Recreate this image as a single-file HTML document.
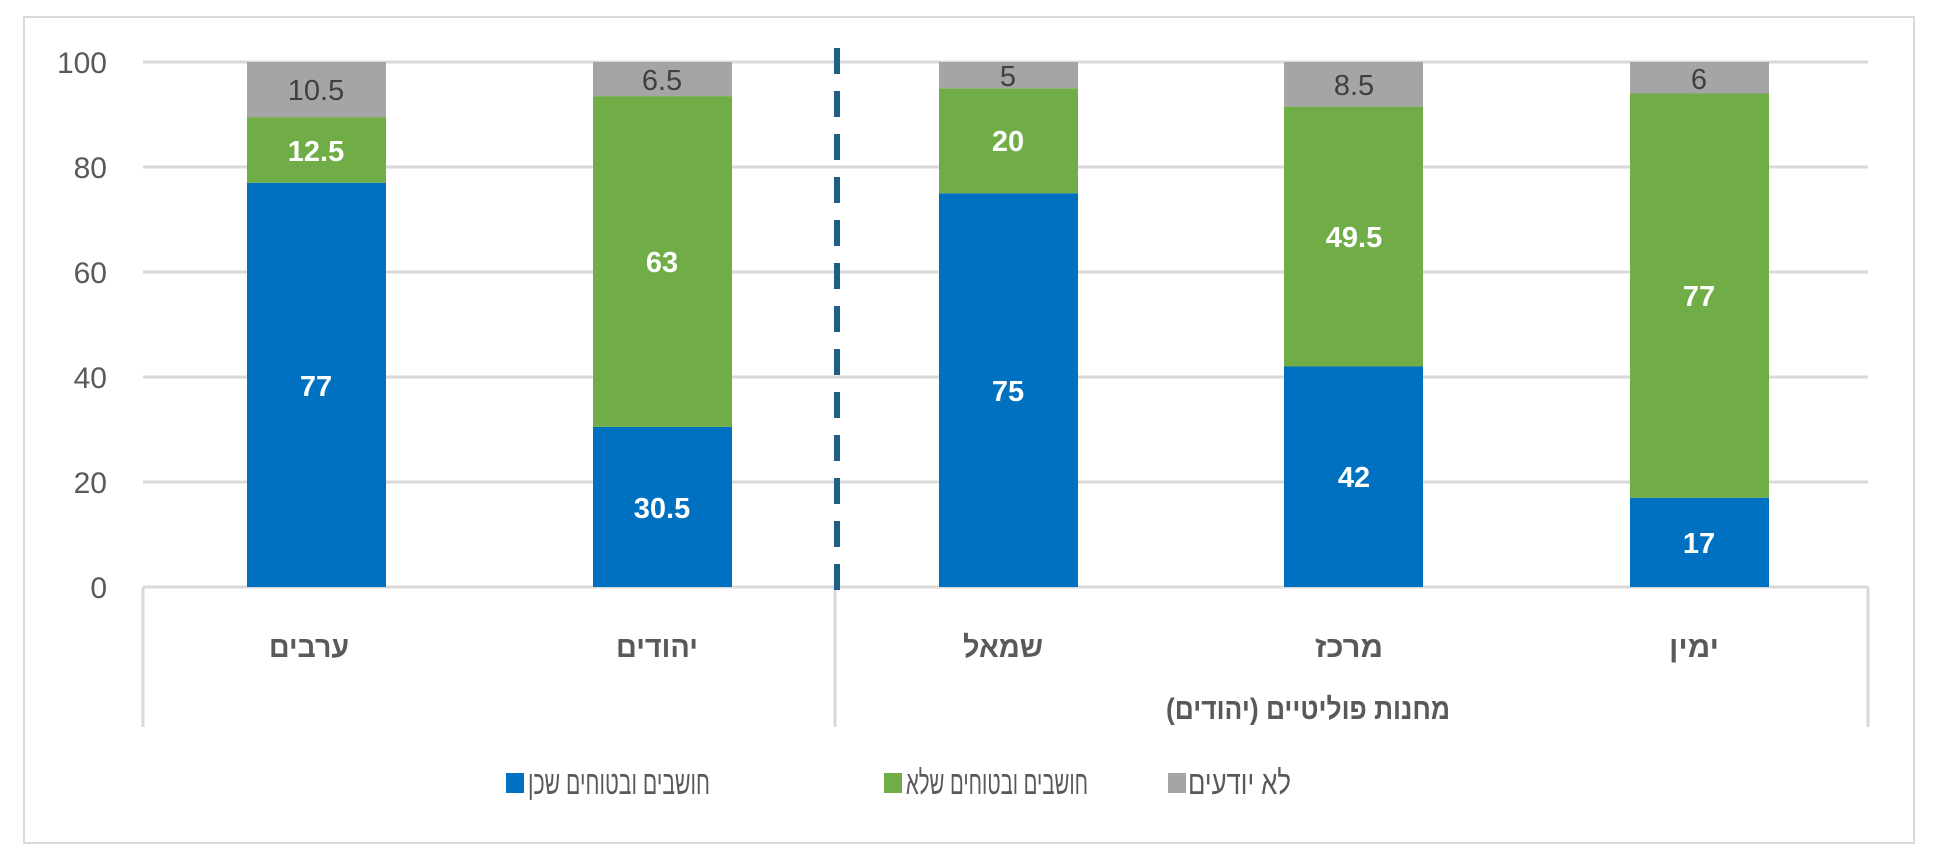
<!DOCTYPE html>
<html><head><meta charset="utf-8"><style>body{margin:0;background:#fff}svg{display:block}</style></head><body>
<svg width="1934" height="862" xmlns="http://www.w3.org/2000/svg" font-family="'Liberation Sans','Noto Sans CJK SC',sans-serif">
<rect x="0" y="0" width="1934" height="862" fill="#fff"/>
<rect x="24" y="17" width="1890" height="826" fill="none" stroke="#D9D9D9" stroke-width="2"/>
<g stroke="#D9D9D9" stroke-width="3">
<line x1="143" y1="62" x2="1868" y2="62"/>
<line x1="143" y1="167" x2="1868" y2="167"/>
<line x1="143" y1="272" x2="1868" y2="272"/>
<line x1="143" y1="377" x2="1868" y2="377"/>
<line x1="143" y1="482" x2="1868" y2="482"/>
<line x1="143" y1="587" x2="1868" y2="587"/>
<line x1="143" y1="587" x2="143" y2="727"/>
<line x1="835" y1="587" x2="835" y2="727"/>
<line x1="1868" y1="587" x2="1868" y2="727"/>
</g>
<g font-size="30" fill="#595959" text-anchor="end">
<text x="107" y="73">100</text><text x="107" y="178">80</text><text x="107" y="283">60</text>
<text x="107" y="388">40</text><text x="107" y="493">20</text><text x="107" y="598">0</text>
</g>
<g>
<rect x="247" y="182.75" width="139" height="404.25" fill="#0070C0"/>
<rect x="247" y="117.125" width="139" height="65.625" fill="#70AD47"/>
<rect x="247" y="62" width="139" height="55.125" fill="#A5A5A5"/>
<rect x="593" y="426.875" width="139" height="160.125" fill="#0070C0"/>
<rect x="593" y="96.125" width="139" height="330.75" fill="#70AD47"/>
<rect x="593" y="62" width="139" height="34.125" fill="#A5A5A5"/>
<rect x="939" y="193.25" width="139" height="393.75" fill="#0070C0"/>
<rect x="939" y="88.25" width="139" height="105" fill="#70AD47"/>
<rect x="939" y="62" width="139" height="26.25" fill="#A5A5A5"/>
<rect x="1284" y="366.5" width="139" height="220.5" fill="#0070C0"/>
<rect x="1284" y="106.625" width="139" height="259.875" fill="#70AD47"/>
<rect x="1284" y="62" width="139" height="44.625" fill="#A5A5A5"/>
<rect x="1630" y="497.75" width="139" height="89.25" fill="#0070C0"/>
<rect x="1630" y="93.5" width="139" height="404.25" fill="#70AD47"/>
<rect x="1630" y="62" width="139" height="31.5" fill="#A5A5A5"/>
</g>
<g font-size="29" font-weight="bold" fill="#fff" text-anchor="middle">
<text x="316" y="396">77</text><text x="316" y="161">12.5</text>
<text x="662" y="518">30.5</text><text x="662" y="272">63</text>
<text x="1008" y="401">75</text><text x="1008" y="151">20</text>
<text x="1354" y="487">42</text><text x="1354" y="247">49.5</text>
<text x="1699" y="553">17</text><text x="1699" y="306">77</text>
</g>
<g font-size="29" fill="#404040" text-anchor="middle">
<text x="316" y="100">10.5</text><text x="662" y="90">6.5</text><text x="1008" y="86">5</text>
<text x="1354" y="95">8.5</text><text x="1699" y="89">6</text>
</g>
<line x1="837" y1="48" x2="837" y2="592" stroke="#1F5F86" stroke-width="6" stroke-dasharray="26 17"/>
<g font-size="30" font-weight="bold" fill="#595959" text-anchor="middle">
<text x="309" y="657" textLength="80" lengthAdjust="spacingAndGlyphs">ערבים</text>
<text x="657" y="657" textLength="82" lengthAdjust="spacingAndGlyphs">יהודים</text>
<text x="1003" y="657" textLength="80" lengthAdjust="spacingAndGlyphs">שמאל</text>
<text x="1349" y="657" textLength="68" lengthAdjust="spacingAndGlyphs">מרכז</text>
<text x="1694" y="657" textLength="50" lengthAdjust="spacingAndGlyphs">ימין</text>
<text x="1308" y="719" textLength="284" lengthAdjust="spacingAndGlyphs">מחנות פוליטיים (יהודים)</text>
</g>
<g font-size="33" fill="#595959">
<rect x="506" y="773" width="18" height="20" fill="#0070C0"/>
<text x="710" y="794" text-anchor="end" textLength="182" lengthAdjust="spacingAndGlyphs">חושבים ובטוחים שכן</text>
<rect x="884" y="773" width="18" height="20" fill="#70AD47"/>
<text x="1088" y="794" text-anchor="end" textLength="182" lengthAdjust="spacingAndGlyphs">חושבים ובטוחים שלא</text>
<rect x="1168" y="773" width="18" height="20" fill="#A5A5A5"/>
<text x="1291" y="794" text-anchor="end" textLength="103" lengthAdjust="spacingAndGlyphs">לא יודעים</text>
</g>
</svg>
</body></html>
